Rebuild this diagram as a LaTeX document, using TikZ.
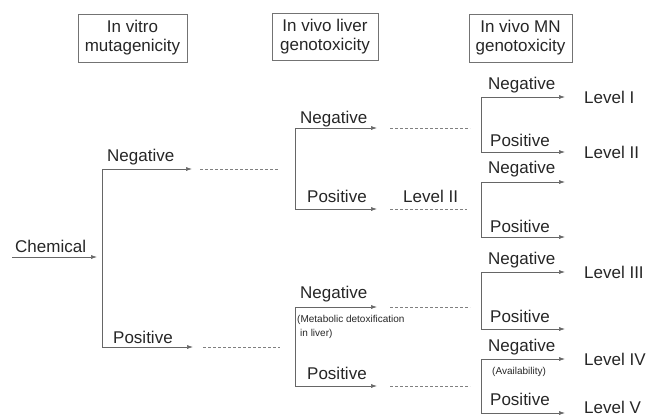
\documentclass[tikz,border=0pt]{standalone}
\usepackage{fontspec}
\setmainfont{Liberation Sans}
\usetikzlibrary{arrows.meta}
\begin{document}
\begin{tikzpicture}[x=1pt,y=-1pt,
  lbl/.style={anchor=base west,inner sep=0pt,font=\fontsize{17}{19}\selectfont,text=black!85},
  small/.style={anchor=base west,inner sep=0pt,font=\fontsize{10}{13}\selectfont,text=black!85},
  hdr/.style={draw=black!55,line width=0.6pt,align=center,inner sep=0pt,font=\fontsize{17}{19}\selectfont,text=black!85},
  link/.style={draw=black!60,line width=0.6pt},
  arr/.style={link,-{Latex[length=6pt,width=4pt]}},
  cont/.style={draw=black!50,line width=0.6pt,dash pattern=on 2.5pt off 2.5pt}]
\useasboundingbox (0,0) rectangle (649,416);
% headers
\node[hdr,minimum width=109pt,minimum height=48pt] (h1) at (132.5,38) {In vitro\\mutagenicity};
\node[hdr,minimum width=106pt,minimum height=47pt] (h2) at (325,37) {In vivo liver\\genotoxicity};
\node[hdr,minimum width=103pt,minimum height=48pt] (h3) at (520.5,38) {In vivo MN\\genotoxicity};
% chemical
\node[lbl] (chem) at (15,252) {Chemical};
\coordinate (c0) at (12,257);
\coordinate (c1) at (97,257);
\draw[arr] (c0) -- (c1);
% level 1
\coordinate (v1) at (102,258);
\coordinate (a1n) at (192,169);
\coordinate (a1p) at (193,347);
\draw[arr] (v1) |- (a1n);
\draw[arr] (v1) |- (a1p);
\node[lbl] (l1n) at (107,161) {Negative};
\node[lbl] (l1p) at (113,343) {Positive};
\coordinate (d1na) at (200,169); \coordinate (d1nb) at (278,169);
\coordinate (d1pa) at (203,347); \coordinate (d1pb) at (280,347);
\draw[cont] (d1na) -- (d1nb);
\draw[cont] (d1pa) -- (d1pb);
% level 2 top
\coordinate (v2t) at (295,168.5);
\coordinate (a2tn) at (377,128);
\coordinate (a2tp) at (377,209);
\draw[arr] (v2t) |- (a2tn);
\draw[arr] (v2t) |- (a2tp);
\node[lbl] (l2tn) at (300,123) {Negative};
\node[lbl] (l2tp) at (307,202) {Positive};
\node[lbl] (lv2a) at (403,202) {Level II};
\coordinate (d2tna) at (390,128); \coordinate (d2tnb) at (470,128);
\coordinate (d2tpa) at (390,209); \coordinate (d2tpb) at (467,209);
\draw[cont] (d2tna) -- (d2tnb);
\draw[cont] (d2tpa) -- (d2tpb);
% level 2 bottom
\coordinate (v2b) at (295,346.5);
\coordinate (a2bn) at (377,307);
\coordinate (a2bp) at (377,386);
\draw[arr] (v2b) |- (a2bn);
\draw[arr] (v2b) |- (a2bp);
\node[lbl] (l2bn) at (300,298) {Negative};
\node[small] (meta1) at (297,322.5) {(Metabolic detoxification};
\node[small] (meta2) at (300,336) {in liver)};
\node[lbl] (l2bp) at (307,379) {Positive};
\coordinate (d2bna) at (390,307); \coordinate (d2bnb) at (470,307);
\coordinate (d2bpa) at (390,386); \coordinate (d2bpb) at (470,386);
\draw[cont] (d2bna) -- (d2bnb);
\draw[cont] (d2bpa) -- (d2bpb);
% level 3
\coordinate (v3a) at (481,124.5);
\coordinate (v3b) at (481,209.5);
\coordinate (v3c) at (481,300.5);
\coordinate (v3d) at (481,386);
\coordinate (a3an) at (565,97);  \coordinate (a3ap) at (565,152);
\coordinate (a3bn) at (565,182); \coordinate (a3bp) at (565,237);
\coordinate (a3cn) at (565,272); \coordinate (a3cp) at (565,329);
\coordinate (a3dn) at (565,359); \coordinate (a3dp) at (565,413);
\draw[arr] (v3a) |- (a3an); \draw[arr] (v3a) |- (a3ap);
\draw[arr] (v3b) |- (a3bn); \draw[arr] (v3b) |- (a3bp);
\draw[arr] (v3c) |- (a3cn); \draw[arr] (v3c) |- (a3cp);
\draw[arr] (v3d) |- (a3dn); \draw[arr] (v3d) |- (a3dp);
\node[lbl] (l3an) at (488,89) {Negative};
\node[lbl] (l3ap) at (490,146) {Positive};
\node[lbl] (l3bn) at (488,173) {Negative};
\node[lbl] (l3bp) at (490,232) {Positive};
\node[lbl] (l3cn) at (488,264) {Negative};
\node[lbl] (l3cp) at (490,322) {Positive};
\node[lbl] (l3dn) at (488,351) {Negative};
\node[small] (avail) at (492,374) {(Availability)};
\node[lbl] (l3dp) at (490,405) {Positive};
% levels
\node[lbl] (lvI) at (584,103) {Level I};
\node[lbl] (lvII) at (584,158) {Level II};
\node[lbl] (lvIII) at (584,278) {Level III};
\node[lbl] (lvIV) at (584,365) {Level IV};
\node[lbl] (lvV) at (584,413.5) {Level V};
\end{tikzpicture}
\end{document}
